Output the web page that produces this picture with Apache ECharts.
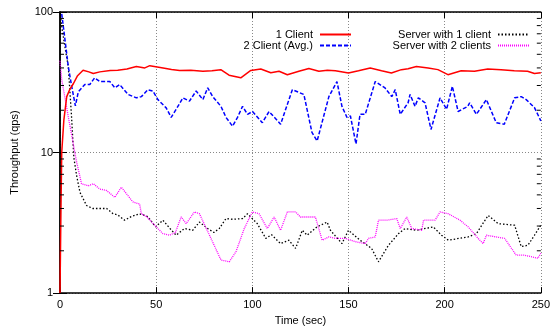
<!DOCTYPE html>
<html><head><meta charset="utf-8">
<script src="https://cdn.jsdelivr.net/npm/echarts@6/dist/echarts.min.js"></script>
<style>html,body{margin:0;padding:0;background:#fff}#c{width:553px;height:331px}</style>
</head><body><div id="c"></div>
<script>
const xTicks = [0, 50, 100, 150, 200, 250];
const yTicks = [1, 10, 100];
const minorTickValues = [2,3,4,5,6,7,8,9,20,30,40,50,60,70,80,90];

const names = ['1 Client', '2 Client (Avg.)', 'Server with 1 client', 'Server with 2 clients'];

const client1T = [0,0.5,0.9,2,3.5,5,7,9,12,15,17.3,20.7,26.1,30,34.8,39.7,44.1,46.7,53.6,58,62.2,68,74.3,79,83.6,87.9,94,99.2,104.4,109.6,113.9,118.2,124.2,129.4,134.6,139,143.2,150,155.2,161.3,167.2,172.3,177.5,181,185.3,191.4,196.5,201.7,208.6,215.5,222.4,229.3,236.2,243.1,246.7,250];
const client1V = [1,4,10,17,25,28,31,35,38.5,37.5,36.5,37.5,38.4,38.5,39.3,41,40,41.5,40,39,38.4,38.5,37.9,38.2,38.9,35.5,34,38.4,39.3,37,37.9,35.8,37.9,39.6,37.9,38.5,38.2,36.8,38.2,40,38.2,36.8,38.9,39.5,41,40,38.9,35.8,38.2,37.9,39.3,38.9,38.2,37.9,36.5,37];

const client2T = [0.9,2.5,4.3,6,8,9.5,12.9,15.5,18,20.7,25.9,28.5,31,35.4,39.7,42.3,45.7,48.3,50.9,55.2,57.8,60.4,63.9,67.3,70.8,74.3,76.8,79.4,83.7,86.3,89.7,92.3,94.9,97.5,100.1,105.2,108.7,114.7,120.8,126.8,131,133.7,139.8,144,146.6,149.2,151,153.9,156,158.7,163.9,169,172.5,174.3,176.9,181,182,184.6,186.3,189.8,192.9,197.6,201,204,207,212,213,216.5,221.7,226.8,231,236.4,239.8,242.4,246.7,250];
const client2V = [97,65,41,30,21.5,27,30.5,30.5,34,32,32,28.9,30.5,25.9,24.5,25,28,27.4,23.8,20.8,17.8,20.3,24.5,23.2,27.4,23.8,28.9,25,21.3,17.8,15.4,17.8,21.3,18.7,19.6,16.3,19.6,15.9,28,25.9,13.9,12.1,25,32,21.3,17.8,18.2,11.5,18.7,18.7,32,28.8,25,28,18.7,22.6,25.9,21.3,24.5,22.6,14.6,24.5,20.3,29.6,19.6,21.3,22.6,18.7,23.8,16.3,15.9,24.5,25,23.8,20.9,16.8];

const server1T = [0,1.2,3,4.3,6,7.2,8.6,10.4,13.8,17,20.7,24.2,27.6,30,33.6,37,41.4,45.7,49.7,53.5,57,60.4,64.7,69,72.5,76.8,80,82.8,86.3,90,94.9,97.5,102.6,107,110,114.7,119,122.5,126,128.5,133.7,138.9,140.6,146.6,150,156,162,165.6,170.8,176,179.4,185.4,194.1,198.4,201.9,212.2,216.5,222.6,227.8,236.4,239.8,243.3,246.7,250];
const server1V = [100,74,52,41,18,9.2,6.9,5.2,4.2,4.0,4.0,4.0,3.67,3.6,3.3,3.5,3.67,3.5,2.96,3.3,2.9,2.58,2.88,2.8,3.2,2.88,2.7,2.88,3.39,3.35,3.39,3.67,3.12,2.45,2.6,2.25,2.38,2.08,2.8,2.58,2.96,3.2,2.8,2.25,2.8,2.38,2.08,1.67,2.19,2.65,2.88,2.8,2.96,2.58,2.38,2.51,2.65,3.57,3.12,3.04,2.14,2.19,2.58,3.04];

const server2T = [0,0.9,4.3,8.6,11.2,14.7,17.3,20.7,24.2,28.5,31.9,37.9,41.4,42.3,45,49.2,53.5,56.9,60,63,65.6,69.9,72.5,79.3,83.7,88,91.5,95.8,100,103.5,107.8,111.3,114.7,118.2,122.5,125,132.8,136.3,139.8,143.2,148.4,153.6,158.7,160.4,163.9,165.6,169.9,175.1,176.9,180.3,182.9,188.1,189,195,197.6,201.9,208,212.2,217.4,220,221.7,231.2,237.2,241.6,248.5,250];
const server2V = [45,33,18,8.6,6.0,5.8,6.0,5.5,5.37,4.8,5.67,4.45,4.3,3.67,3.5,3.04,2.65,2.58,2.7,3.48,3.12,3.78,3.67,2.32,1.72,1.67,1.97,2.88,3.78,3.67,2.88,3.48,2.8,3.78,3.78,3.48,3.48,2.38,2.51,2.45,2.45,2.32,2.25,2.45,2.51,3.3,3.3,3.39,2.88,3.48,2.88,2.8,3.3,3.3,3.78,3.67,3.3,2.96,2.45,2.25,2.58,2.45,1.86,1.86,1.77,1.92];

const zip = (t, v) => t.map((x, i) => [x, v[i]]);
const FONT = 'Liberation Sans, Arial, Helvetica, sans-serif';

const chart = echarts.init(document.getElementById('c'), null, {renderer: 'canvas'});

const xBase = {
  type: 'value', min: xTicks[0], max: xTicks[xTicks.length - 1], interval: 50,
  axisLine: {show: true, lineStyle: {color: '#000', width: 1.5}},
  axisTick: {show: true, inside: true, length: 6, lineStyle: {color: '#000'}},
  splitLine: {show: false}
};
const yBase = {
  type: 'log', logBase: 10, min: yTicks[0], max: yTicks[yTicks.length - 1],
  axisLine: {show: true, lineStyle: {color: '#000', width: 1.5}},
  axisTick: {show: true, inside: true, length: 7, lineStyle: {color: '#000'}},
  splitLine: {show: false}
};
const legendBase = {
  orient: 'vertical', align: 'right', top: 24, itemWidth: 31, itemHeight: 8, itemGap: 0,
  itemStyle: {opacity: 0},
  textStyle: {fontSize: 11, color: '#000', fontFamily: FONT, lineHeight: 11, padding: [0, 2, 0, 0]}
};

chart.setOption({
  animation: false,
  backgroundColor: '#fff',
  textStyle: {fontFamily: FONT},
  grid: {left: 60, right: 10, top: 12, bottom: 35, containLabel: false},
  xAxis: [
    Object.assign({}, xBase, {
      position: 'bottom',
      name: 'Time (sec)', nameLocation: 'middle', nameGap: 21,
      nameTextStyle: {fontSize: 11, color: '#000', fontFamily: FONT},
      axisLabel: {color: '#000', fontSize: 11, margin: 6, fontFamily: FONT},
      splitLine: {show: true, lineStyle: {color: '#888', type: [1, 2], width: 1}}
    }),
    Object.assign({}, xBase, {position: 'top', axisLabel: {show: false}})
  ],
  yAxis: [
    Object.assign({}, yBase, {
      position: 'left',
      name: 'Throughput (qps)', nameLocation: 'middle', nameGap: 40,
      nameTextStyle: {fontSize: 11, color: '#000', fontFamily: FONT},
      axisLabel: {color: '#000', fontSize: 11, margin: 7, fontFamily: FONT},
      splitLine: {show: true, lineStyle: {color: '#888', type: [1, 2], width: 1}}
    }),
    Object.assign({}, yBase, {position: 'right', axisLabel: {show: false}})
  ],
  legend: [
    Object.assign({}, legendBase, {data: [names[0], names[1]], right: 196}),
    Object.assign({}, legendBase, {data: [names[2], names[3]], right: 18})
  ],
  series: [
    {
      name: names[0], type: 'line', data: zip(client1T, client1V), symbol: 'none',
      lineStyle: {color: '#ff0000', width: 1.5}, itemStyle: {color: '#ff0000'}, z: 5
    },
    {
      name: names[1], type: 'line', data: zip(client2T, client2V), symbol: 'none',
      lineStyle: {color: '#0000ff', width: 1.5, type: [4, 2]}, itemStyle: {color: '#0000ff'}, z: 4
    },
    {
      name: names[2], type: 'line', data: zip(server1T, server1V), symbol: 'none',
      lineStyle: {color: '#000000', width: 1.3, type: [1.5, 2]}, itemStyle: {color: '#000000'}, z: 3
    },
    {
      name: names[3], type: 'line', data: zip(server2T, server2V), symbol: 'none',
      lineStyle: {color: '#ff00ff', width: 1.3, type: [1, 1]}, itemStyle: {color: '#ff00ff'}, z: 3
    },
    {
      type: 'custom', silent: true, xAxisIndex: 0, yAxisIndex: 0,
      data: minorTickValues.map(v => [xTicks[0], v]),
      renderItem: function (params, api) {
        const v = api.value(1);
        const l = api.coord([xTicks[0], v]);
        const r = api.coord([xTicks[xTicks.length - 1], v]);
        return {
          type: 'group',
          children: [
            {type: 'line', shape: {x1: l[0], y1: l[1], x2: l[0] + 4, y2: l[1]}, style: {stroke: '#000', lineWidth: 1}},
            {type: 'line', shape: {x1: r[0] - 4, y1: r[1], x2: r[0], y2: r[1]}, style: {stroke: '#000', lineWidth: 1}}
          ]
        };
      },
      z: 10
    }
  ]
});
</script></body></html>
